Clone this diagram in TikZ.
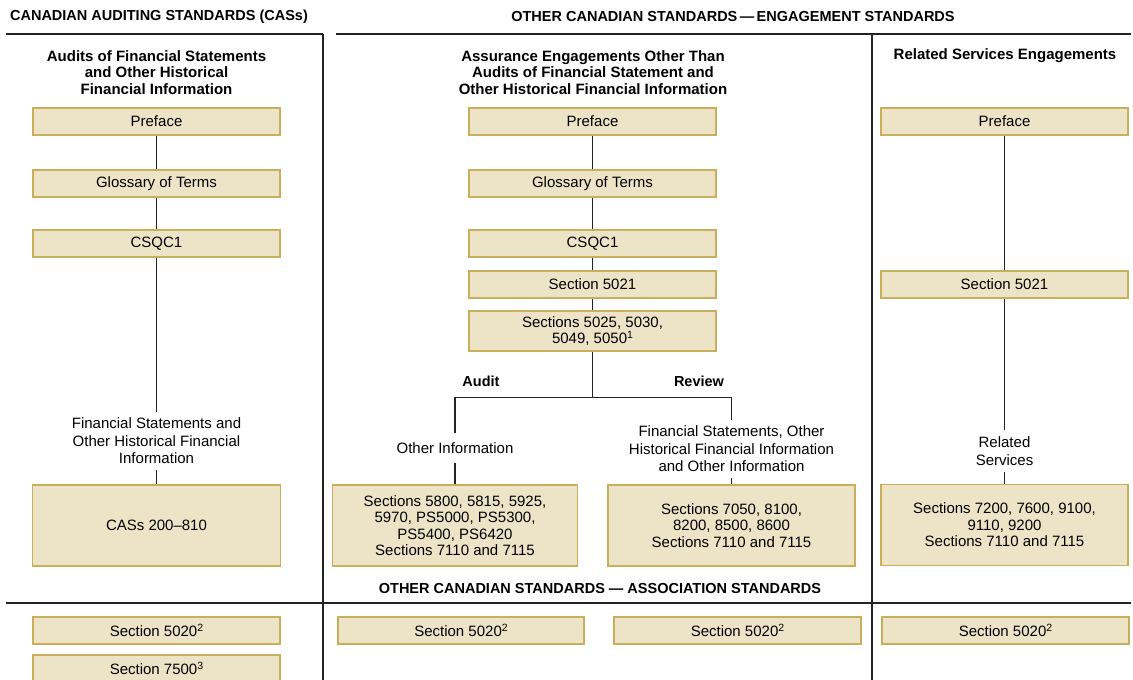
\documentclass[tikz,border=0pt]{standalone}
\usepackage{fontspec}
\setmainfont{Liberation Sans}
\definecolor{boxfill}{RGB}{237,228,200}
\definecolor{boxline}{RGB}{201,174,92}
\definecolor{rule}{RGB}{35,35,35}
\newcommand{\supnum}[1]{\raisebox{0.36em}{\fontsize{10.5}{10.5}\selectfont #1}}
\begin{document}
\begin{tikzpicture}[x=1pt,y=-1pt,
  stdbox/.style={draw=boxline,fill=boxfill,line width=1.5pt,inner sep=0pt,
    minimum width=247pt,minimum height=27pt,align=center,
    font=\fontsize{15}{16.5}\selectfont},
  bigbox/.style={stdbox,minimum height=81pt},
  lbl/.style={align=center,inner xsep=2pt,inner ysep=6pt,
    font=\fontsize{15}{17.5}\selectfont},
  head/.style={align=center,inner sep=0pt,font=\fontsize{14.5}{16.5}\selectfont\bfseries},
  title/.style={head,font=\fontsize{15}{16.5}\selectfont\bfseries},
  conn/.style={draw=rule,line width=1.3pt},
  sep/.style={draw=rule,line width=1.3pt}]
\useasboundingbox (0,0) rectangle (1133,680);

% section rules
\draw[sep] (6,34) -- (323,34);
\draw[sep] (336,34) -- (1131,34);
\draw[sep] (323,34) -- (323,680);
\draw[sep] (872,34) -- (872,680);
\draw[sep] (6,603) -- (1131,603);

% headings
\node[head] (hcas) at (159,17) {CANADIAN AUDITING STANDARDS (CASs)};
\node[head] (heng) at (733,17) {OTHER CANADIAN STANDARDS\,—\,ENGAGEMENT STANDARDS};
\node[head] (hass) at (600,589) {OTHER CANADIAN STANDARDS — ASSOCIATION STANDARDS};

\node[title] (tleft) at (156.5,72.5) {Audits of Financial Statements\\and Other Historical\\Financial Information};
\node[title] (tmid) at (593,72.5) {Assurance Engagements Other Than\\Audits of Financial Statement and\\Other Historical Financial Information};
\node[title] (tright) at (1005,56) {Related Services Engagements};

% left column
\node[stdbox] (lpre) at (156.5,121.5) {Preface};
\node[stdbox] (lglo) at (156.5,183.5) {Glossary of Terms};
\node[stdbox] (lcsq) at (156.5,243.5) {CSQC1};
\node[lbl] (lfs) at (156.5,441) {Financial Statements and\\Other Historical Financial\\Information};
\node[bigbox,minimum width=248pt] (lcas) at (156.5,525.5) {CASs 200–810};

\draw[conn] (lpre) -- (lglo);
\draw[conn] (lglo) -- (lcsq);
\draw[conn] (lcsq) -- (lfs);
\draw[conn] (lfs) -- (lcas);

% middle column
\node[stdbox] (mpre) at (592.5,121.5) {Preface};
\node[stdbox] (mglo) at (592.5,183.5) {Glossary of Terms};
\node[stdbox] (mcsq) at (592.5,243.5) {CSQC1};
\node[stdbox] (m5021) at (592.5,284.5) {Section 5021};
\node[stdbox,minimum height=40pt] (m5025) at (592.5,331) {Sections 5025, 5030,\\5049, 5050\supnum{1}};
\coordinate (mbr) at (592.5,397.5);
\node[head] (audit) at (481,381) {Audit};
\node[head] (review) at (699,381) {Review};
\node[lbl,inner ysep=9pt] (moi) at (455,448) {Other Information};
\node[lbl] (mfs) at (731.5,449) {Financial Statements, Other\\Historical Financial Information\\and Other Information};
\node[bigbox,minimum width=245pt] (m5800) at (455,525.5) {Sections 5800, 5815, 5925,\\5970, PS5000, PS5300,\\PS5400, PS6420\\Sections 7110 and 7115};
\node[bigbox] (m7050) at (731.5,525.5) {Sections 7050, 8100,\\8200, 8500, 8600\\Sections 7110 and 7115};

\draw[conn] (mpre) -- (mglo);
\draw[conn] (mglo) -- (mcsq);
\draw[conn] (mcsq) -- (m5021);
\draw[conn] (m5021) -- (m5025);
\draw[conn] (m5025) -- (mbr);
\draw[conn] (moi.north) |- (mbr) -| (mfs.north);
\draw[conn] (moi) -- (m5800);
\draw[conn] (mfs) -- (m7050);

% right column
\node[stdbox] (rpre) at (1004.5,121.5) {Preface};
\node[stdbox] (r5021) at (1004.5,284.5) {Section 5021};
\node[lbl,inner ysep=7pt] (rrs) at (1004.5,451) {Related\\Services};
\node[bigbox] (r7200) at (1004.5,525) {Sections 7200, 7600, 9100,\\9110, 9200\\Sections 7110 and 7115};

\draw[conn] (rpre) -- (r5021);
\draw[conn] (r5021) -- (rrs);
\draw[conn] (rrs) -- (r7200);

% association standards row
\node[stdbox] (b5020l) at (156.5,630.5) {Section 5020\supnum{2}};
\node[stdbox] (b7500) at (156.5,668.5) {Section 7500\supnum{3}};
\node[stdbox,minimum width=246pt] (b5020m) at (461,630.5) {Section 5020\supnum{2}};
\node[stdbox] (b5020n) at (737.5,630.5) {Section 5020\supnum{2}};
\node[stdbox] (b5020r) at (1005.5,630.5) {Section 5020\supnum{2}};
\end{tikzpicture}
\end{document}
